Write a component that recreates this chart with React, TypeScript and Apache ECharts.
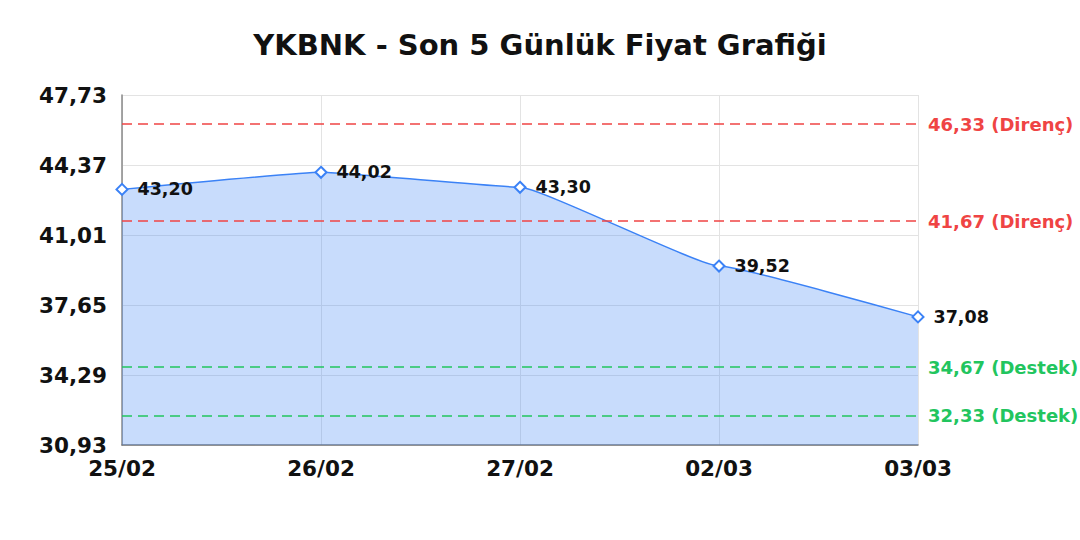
import React, { useEffect, useRef } from 'react';
import * as echarts from 'echarts';

// veriler
const dates = ['25/02', '26/02', '27/02', '02/03', '03/03'];
const prices = [43.2, 44.02, 43.3, 39.52, 37.08];
const yTicks = [30.93, 34.29, 37.65, 41.01, 44.37, 47.73];
const resistanceLevels = [46.33, 41.67];
const supportLevels = [34.67, 32.33];

const fmt = (v: number) => v.toFixed(2).replace('.', ',');

const FONT = 'DejaVu Sans';

const App: React.FC = () => {
  const chartRef = useRef<HTMLDivElement>(null);

  useEffect(() => {
    document.body.style.margin = '0';
    if (!chartRef.current) return;
    const chart = echarts.init(chartRef.current, undefined, { renderer: 'svg' });

    const levelLine = (value: number, kind: string, color: string) => ({
      yAxis: value,
      lineStyle: { color, type: [10, 6], width: 1.5 },
      label: {
        show: true,
        position: 'end',
        distance: 10,
        color,
        fontFamily: FONT,
        fontWeight: 'bold',
        fontSize: 18,
        formatter: `${fmt(value)} (${kind})`
      }
    });

    const option: echarts.EChartsOption = {
      animation: false,
      textStyle: { fontFamily: FONT },
      title: {
        text: 'YKBNK - Son 5 Günlük Fiyat Grafiği',
        left: 'center',
        top: 25,
        textStyle: {
          fontFamily: FONT,
          fontSize: 29,
          fontWeight: 'bold',
          color: '#111'
        }
      },
      grid: {
        left: 122,
        right: 162,
        top: 95,
        bottom: 95
      },
      xAxis: {
        type: 'category',
        data: dates,
        boundaryGap: false,
        axisLine: { lineStyle: { color: '#777', width: 1.5 } },
        axisTick: { show: false },
        axisLabel: {
          color: '#111',
          fontFamily: FONT,
          fontWeight: 'bold',
          fontSize: 21.5,
          margin: 12
        },
        splitLine: { show: true, lineStyle: { color: '#e3e3e3' } }
      },
      yAxis: {
        type: 'value',
        min: yTicks[0],
        max: yTicks[yTicks.length - 1],
        axisLine: { show: true, lineStyle: { color: '#888', width: 1.5 } },
        axisTick: { show: false, customValues: yTicks },
        axisLabel: {
          customValues: yTicks,
          color: '#111',
          fontFamily: FONT,
          fontWeight: 'bold',
          fontSize: 21.5,
          margin: 15,
          formatter: (v: number) => fmt(v)
        },
        splitLine: { show: true, lineStyle: { color: '#e3e3e3' } }
      },
      series: [
        {
          type: 'line',
          data: prices,
          smooth: 0.1,
          smoothMonotone: 'x',
          symbol: 'diamond',
          symbolSize: 11,
          lineStyle: { color: '#3b82f6', width: 1.5 },
          itemStyle: { color: '#fff', borderColor: '#3b82f6', borderWidth: 2 },
          areaStyle: { color: 'rgba(59,130,246,0.4)' },
          label: {
            show: true,
            position: 'right',
            distance: 9,
            color: '#111',
            fontFamily: FONT,
            fontWeight: 'bold',
            fontSize: 17.5,
            formatter: (p: any) => fmt(p.value)
          },
          markLine: {
            silent: true,
            symbol: ['none', 'none'],
            data: [
              ...resistanceLevels.map(v => levelLine(v, 'Direnç', '#ef4444')),
              ...supportLevels.map(v => levelLine(v, 'Destek', '#22c55e'))
            ] as any
          }
        }
      ]
    };

    chart.setOption(option);
    return () => {
      chart.dispose();
    };
  }, []);

  return <div ref={chartRef} style={{ width: 1080, height: 540 }} />;
};

export default App;
